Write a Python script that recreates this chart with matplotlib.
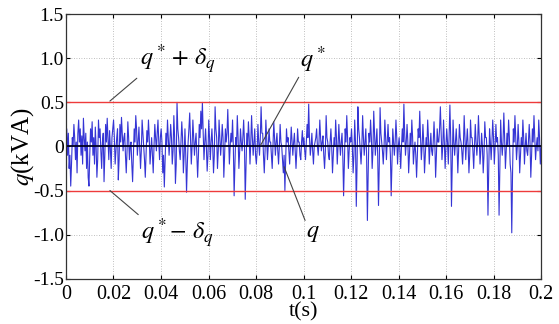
import numpy as np
import matplotlib
matplotlib.use("Agg")
import matplotlib.pyplot as plt

plt.rcParams['font.family'] = ['Liberation Serif', 'DejaVu Serif']
plt.rcParams['mathtext.fontset'] = 'stix'

# Reactive power q (kVA) sampled over 0..0.2 s, 60 samples per 0.02 s
q_values = [
    # 0.00 - 0.02
    0.05, 0.2, -0.1, 0.15, -0.25, -0.1, -0.45, -0.2, 0.1, 0.0,
    0.25, 0.1, -0.15, 0.05, -0.3, 0.15, 0.3, 0.05, 0.2, -0.1,
    0.12, -0.2, 0.32, 0.1, -0.05, 0.15, -0.25, 0.05, -0.35, -0.45,
    -0.1, 0.2, 0.05, 0.28, -0.1, 0.1, -0.2, 0.22, 0.0, -0.35,
    -0.15, 0.3, 0.1, 0.2, -0.05, -0.25, 0.05, 0.15, -0.4, -0.1,
    0.25, 0.05, 0.32, 0.1, -0.15, 0.18, -0.05, -0.25, 0.1, 0.2,
    # 0.02 - 0.04
    0.3, 0.1, -0.2, -0.05, 0.1, 0.2, -0.38, -0.15, 0.25, 0.05,
    0.33, 0.15, -0.05, 0.1, 0.15, -0.1, -0.3, -0.05, 0.28, 0.1,
    -0.15, 0.0, 0.05, -0.2, -0.4, -0.1, 0.2, 0.05, 0.35, 0.2,
    -0.1, 0.05, 0.22, 0.0, -0.25, -0.05, 0.3, 0.15, 0.0, -0.15,
    -0.35, -0.1, 0.18, 0.05, 0.3, 0.1, -0.2, -0.05, 0.1, -0.1,
    -0.3, 0.0, 0.25, 0.1, -0.05, 0.15, 0.3, 0.05, -0.15, 0.1,
    # 0.04 - 0.06
    0.2, 0.05, -0.3, -0.1, -0.46, -0.15, 0.15, 0.0, 0.3, 0.1,
    -0.1, 0.05, 0.25, 0.1, -0.2, -0.05, 0.35, 0.1, -0.42, -0.2,
    0.5, 0.2, 0.1, -0.05, -0.15, 0.05, 0.28, 0.1, -0.3, -0.1,
    0.2, -0.1, -0.52, -0.2, 0.05, 0.2, 0.38, 0.1, -0.2, 0.0,
    0.3, 0.1, -0.1, 0.05, 0.15, -0.1, -0.35, -0.1, 0.25, 0.1,
    0.4, 0.2, 0.5, 0.15, -0.15, 0.05, 0.2, 0.0, -0.28, -0.1,
    # 0.06 - 0.08
    0.3, 0.1, -0.15, 0.05, 0.2, 0.0, -0.3, -0.1, 0.45, 0.2,
    0.1, -0.25, -0.05, 0.3, 0.1, -0.1, 0.05, 0.25, 0.1, -0.35,
    -0.1, 0.2, 0.05, 0.15, 0.42, 0.1, -0.2, 0.0, 0.15, 0.05,
    0.3, 0.0, -0.56, -0.2, 0.1, 0.0, 0.35, 0.1, -0.25, -0.05,
    0.2, 0.05, -0.05, 0.1, 0.3, 0.05, -0.6, -0.2, 0.15, 0.0,
    0.28, 0.1, -0.2, 0.05, 0.35, 0.1, -0.1, 0.05, 0.2, -0.1,
    # 0.08 - 0.10
    -0.2, -0.05, 0.25, 0.05, -0.1, 0.1, 0.45, 0.15, 0.15, -0.1,
    -0.3, -0.05, 0.3, 0.1, -0.15, 0.0, 0.2, 0.05, 0.05, -0.1,
    -0.25, 0.0, 0.28, 0.1, -0.1, 0.05, 0.15, -0.05, -0.2, 0.0,
    0.25, 0.05, 0.0, -0.15, -0.3, -0.1, -0.5, -0.15, 0.2, 0.05,
    0.1, -0.05, -0.2, 0.0, 0.22, 0.05, -0.1, 0.05, 0.15, -0.05,
    -0.25, -0.05, 0.2, 0.05, 0.05, -0.1, -0.15, 0.05, 0.18, 0.0,
    # 0.10 - 0.12
    0.1, -0.05, -0.15, 0.05, 0.25, 0.1, 0.48, 0.1, -0.1, 0.0,
    0.15, -0.05, -0.2, 0.0, 0.05, 0.1, 0.2, 0.0, -0.1, 0.05,
    0.3, 0.1, -0.05, 0.05, 0.12, -0.1, -0.25, -0.05, 0.35, 0.1,
    0.05, -0.1, -0.15, 0.05, 0.2, 0.0, -0.3, -0.1, 0.1, 0.0,
    0.3, 0.1, -0.2, 0.0, 0.25, 0.05, -0.1, 0.05, 0.15, -0.1,
    -0.56, -0.2, 0.2, 0.05, 0.35, 0.1, -0.25, -0.05, 0.1, 0.05,
    # 0.12 - 0.14
    0.2, 0.0, -0.3, -0.1, 0.3, 0.05, -0.68, -0.2, 0.45, 0.2,
    0.1, -0.05, -0.2, 0.0, 0.35, 0.1, -0.1, 0.05, 0.2, -0.1,
    -0.84, -0.3, 0.15, 0.05, 0.3, 0.1, -0.25, -0.05, 0.4, 0.15,
    -0.1, 0.05, 0.2, -0.1, -0.67, -0.2, 0.44, 0.15, 0.05, -0.05,
    -0.2, 0.0, 0.3, 0.1, -0.15, 0.05, 0.25, 0.05, 0.1, -0.1,
    -0.56, -0.2, 0.2, 0.05, -0.1, 0.05, 0.3, 0.1, -0.2, 0.0,
    # 0.14 - 0.16
    0.1, -0.05, -0.25, 0.0, 0.2, 0.05, 0.48, 0.15, -0.1, 0.05,
    0.25, 0.05, -0.3, -0.1, 0.15, 0.0, 0.3, 0.1, -0.2, -0.05,
    0.05, -0.1, -0.35, -0.1, 0.2, 0.1, 0.4, 0.1, -0.15, 0.0,
    0.25, 0.05, -0.3, -0.1, 0.1, 0.0, 0.3, 0.1, -0.2, 0.0,
    0.15, -0.05, -0.1, 0.05, 0.28, 0.05, -0.35, -0.1, 0.2, 0.05,
    0.05, 0.2, 0.45, 0.15, -0.15, 0.0, 0.3, 0.05, -0.25, 0.0,
    # 0.16 - 0.18
    0.2, 0.05, -0.2, 0.1, 0.47, 0.1, -0.68, -0.2, 0.3, 0.05,
    -0.1, 0.05, 0.2, 0.0, -0.3, -0.05, 0.25, 0.1, 0.05, -0.05,
    -0.2, 0.0, 0.35, 0.1, -0.15, 0.05, 0.2, 0.0, -0.3, -0.1,
    0.3, 0.1, 0.1, -0.05, -0.25, 0.0, 0.25, 0.05, -0.1, 0.05,
    0.35, 0.1, -0.2, -0.05, 0.15, 0.0, -0.3, -0.1, 0.28, 0.1,
    0.1, -0.1, -0.78, -0.25, 0.2, 0.05, -0.15, 0.05, 0.3, 0.1,
    # 0.18 - 0.20
    -0.2, 0.0, 0.25, 0.05, 0.1, -0.1, -0.78, -0.2, 0.3, 0.05,
    -0.1, 0.05, 0.38, 0.1, -0.25, -0.05, 0.15, 0.0, 0.3, 0.1,
    -0.2, -0.3, -0.98, -0.3, 0.2, 0.05, 0.35, 0.1, -0.15, 0.0,
    0.25, 0.05, -0.3, -0.1, 0.1, 0.0, 0.3, 0.1, -0.2, 0.0,
    0.15, -0.05, -0.1, 0.05, 0.25, 0.05, -0.35, -0.1, 0.2, 0.05,
    0.35, 0.1, -0.15, 0.0, 0.1, -0.05, 0.3, 0.1, -0.2, 0.0,
]
t_start, t_end = 0.0, 0.2
q_ref = 0.0          # q*
delta_q = 0.5        # tolerance band

x_ticks = [0, 0.02, 0.04, 0.06, 0.08, 0.1, 0.12, 0.14, 0.16, 0.18, 0.2]
x_tick_labels = ['0', '0.02', '0.04', '0.06', '0.08', '0.1', '0.12', '0.14', '0.16', '0.18', '0.2']
y_ticks = [-1.5, -1.0, -0.5, 0, 0.5, 1.0, 1.5]
y_tick_labels = ['-1.5', '-1.0', '-0.5', '0', '0.5', '1.0', '1.5']

t = np.linspace(t_start, t_end, len(q_values))

fig = plt.figure(figsize=(5.59, 3.24), dpi=100)
ax = fig.add_axes([0.118, 0.140, 0.850, 0.816])

ax.plot(t, q_values, color='#3535d5', lw=0.8)
ax.axhline(q_ref + delta_q, color='#ee3b3b', lw=1.0)
ax.axhline(q_ref - delta_q, color='#ee3b3b', lw=1.0)
ax.axhline(q_ref, color='#000022', lw=1.3)

ax.set_xlim(t_start, t_end)
ax.set_ylim(-1.5, 1.5)
ax.set_xticks(x_ticks)
ax.set_xticklabels(x_tick_labels)
ax.set_yticks(y_ticks)
ax.set_yticklabels(y_tick_labels)
ax.tick_params(direction='in', top=True, right=True, labelsize=14, length=3)
ax.tick_params(axis='x', pad=4.5, labelsize=14.5)
ax.tick_params(axis='y', pad=1.5)
ax.grid(True, linestyle=(0, (1, 2)), color='#aaaaaa', lw=0.6)
for s in ax.spines.values():
    s.set_color('#333333')
    s.set_linewidth(0.9)

ax.set_xlabel('t(s)', fontsize=16, labelpad=-1)
ax.set_ylabel(r'$q$(kVA)', fontsize=18)
ax.yaxis.set_label_coords(-0.063, 0.5)

line_style = dict(arrowstyle='-', color='#444444', lw=0.8, shrinkA=0, shrinkB=0)
ax.annotate(r'$q^* + \,\delta_q$', xy=(0.0185, 0.515), xytext=(0.047, 0.99),
            fontsize=17.5, ha='center', va='center',
            arrowprops={**line_style, 'relpos': (0.0, 0.0)})
ax.annotate(r'$q^*$', xy=(0.082, 0.017), xytext=(0.104, 0.99),
            fontsize=17.5, ha='center', va='center',
            arrowprops={**line_style, 'relpos': (0.0, 0.0)})
ax.annotate(r'$q$', xy=(0.0918, -0.23), xytext=(0.104, -0.99),
            fontsize=17.5, ha='center', va='center',
            arrowprops={**line_style, 'relpos': (0.0, 1.0)})
ax.annotate(r'$q^* \!-\, \delta_q$', xy=(0.0185, -0.5), xytext=(0.047, -0.99),
            fontsize=17.5, ha='center', va='center',
            arrowprops={**line_style, 'relpos': (0.0, 1.0)})

fig.savefig('out.png', dpi=100)
